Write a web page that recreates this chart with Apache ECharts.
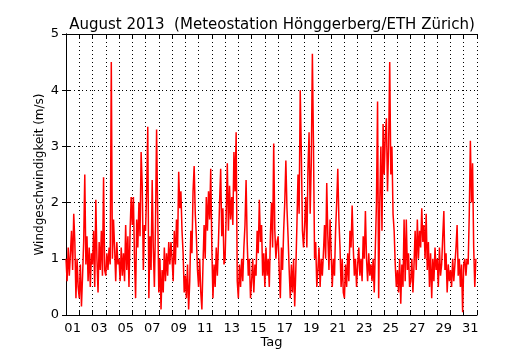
<!DOCTYPE html>
<html>
<head>
<meta charset="utf-8">
<script src="https://cdn.jsdelivr.net/npm/echarts@6/dist/echarts.min.js"></script>
<style>
  html, body { margin: 0; padding: 0; background: #fff; }
  #chart { width: 530px; height: 350px; }
</style>
</head>
<body>
<div id="chart"></div>
<script>
// Windgeschwindigkeit (m/s), 12 Werte pro Tag (alle 2 h), aus dem Bild geschaetzt
var week1 = [
  1.0, 0.6, 1.2, 0.7, 1.1, 1.5, 0.8, 1.8, 1.3, 0.3, 1.0, 0.5,
  0.3, 0.9, 0.15, 0.7, 1.3, 2.5, 0.9, 1.4, 0.6, 1.2, 0.5, 1.1,
  0.9, 1.5, 0.5, 2.05, 1.0, 0.4, 1.3, 0.8, 1.5, 0.7, 2.45, 0.8,
  0.7, 1.1, 0.8, 1.2, 0.9, 4.5, 1.0, 1.7, 1.2, 0.6, 1.3, 0.9,
  1.0, 0.6, 1.2, 0.7, 1.1, 0.6, 1.6, 0.8, 1.4, 0.5, 1.5, 2.1,
  1.6, 2.1, 1.0, 0.3, 1.7, 1.2, 2.0, 1.4, 2.9, 2.3, 0.8, 1.6,
  1.5, 2.2, 3.35, 0.3, 1.4, 0.8, 2.4, 1.2, 0.5, 1.6, 3.3, 1.8
];
var week2 = [
  0.4, 1.0, 0.1, 0.8, 0.4, 1.2, 0.6, 1.1, 0.7, 1.3, 0.9, 1.3,
  1.0, 0.6, 1.5, 0.9, 1.7, 1.2, 2.55, 1.9, 2.2, 1.5, 1.1, 0.4,
  0.7, 0.3, 0.9, 0.1, 0.6, 1.5, 1.1, 2.2, 2.65, 1.8, 1.4, 0.8,
  0.5, 1.0, 0.4, 0.1, 0.9, 1.6, 1.0, 2.1, 1.5, 2.2, 1.7, 2.6,
  1.2, 0.3, 0.9, 0.5, 1.2, 0.7, 1.3, 2.0, 2.6, 1.4, 1.9, 0.9,
  1.0, 1.8, 2.7, 1.5, 2.3, 1.7, 2.1, 1.6, 2.9, 2.2, 3.25, 0.6,
  0.3, 0.9, 0.5, 1.0, 0.6, 1.2, 1.6, 2.4, 1.3, 0.7, 1.0, 0.3
];
var week3 = [
  0.6, 1.0, 0.4, 0.9, 0.7, 1.5, 1.1, 2.05, 1.3, 1.6, 0.7, 1.1,
  0.5, 1.2, 0.7, 1.0, 0.5, 1.4, 2.0, 1.2, 3.05, 1.5, 1.0, 1.3,
  1.4, 0.8, 0.3, 1.2, 0.8, 1.5, 2.0, 2.75, 1.9, 1.4, 0.8, 0.3,
  0.9, 0.4, 1.0, 0.15, 0.8, 1.6, 2.5, 1.8, 4.0, 2.9, 1.5, 1.2,
  1.6, 2.1, 1.2, 2.6, 3.25, 1.8, 2.7, 4.65, 3.0, 1.0, 1.3, 0.5,
  0.8, 1.2, 0.5, 1.0, 0.7, 1.1, 1.6, 1.0, 2.35, 1.4, 0.8, 1.7,
  1.7, 0.5, 1.0, 0.7, 1.5, 2.0, 2.6, 1.7, 1.2, 0.5, 1.0, 0.4
];
var week4 = [
  0.3, 0.9, 0.5, 1.1, 0.6, 1.5, 1.2, 1.95, 1.2, 0.7, 1.0, 0.5,
  0.9, 1.2, 0.7, 1.0, 0.6, 1.4, 1.0, 1.85, 1.0, 0.6, 1.1, 0.7,
  0.9, 0.6, 1.0, 0.4, 1.2, 2.0, 3.8, 0.3, 2.0, 3.0, 1.5, 3.4,
  2.5, 3.2, 3.5, 2.2, 3.0, 4.5, 2.5, 3.0, 1.8, 1.5, 0.9, 0.5,
  0.8, 0.4, 1.0, 0.2, 0.9, 0.5, 1.7, 0.6, 1.7, 0.8, 1.1, 0.5,
  0.6, 1.0, 0.4, 0.9, 1.5, 0.8, 1.7, 1.0, 1.5, 1.2, 1.9, 1.3,
  1.6, 1.0, 1.8, 0.8, 1.3, 0.5, 1.1, 0.3, 1.0, 0.6, 1.2, 0.8
];
var week5 = [
  1.0, 0.5, 1.2, 0.7, 0.9, 1.4, 1.85, 0.8, 1.1, 0.4, 0.9, 0.6,
  0.8, 0.5, 1.0, 0.6, 0.9, 1.2, 1.6, 0.7, 1.0, 0.5, 0.9, 0.05,
  0.9, 1.0, 0.7, 1.0, 0.9, 1.8, 3.1, 2.0, 2.7, 1.2, 0.5, 1.0
];
var dayLabels = ["01", "03", "05", "07", "09", "11", "13", "15", "17", "19",
                 "21", "23", "25", "27", "29", "31"];
var yTicks = [0, 1, 2, 3, 4, 5];
var perDay = 12;

var values = week1.concat(week2, week3, week4, week5);
var points = values.map(function (v, i) {
  return [i / perDay, v];   // x in Tagen seit 1. August 00:00
});

var font = "DejaVu Sans";
var chart = echarts.init(document.getElementById("chart"));
chart.setOption({
  animation: false,
  backgroundColor: "#fff",
  title: {
    text: "August 2013  (Meteostation Hönggerberg/ETH Zürich)",
    left: 267,
    top: 13,
    textAlign: "center",
    textStyle: { fontFamily: font, fontSize: 15, fontWeight: "normal", color: "#000" }
  },
  grid: { left: 66, right: 53, top: 34, bottom: 35, outerBoundsMode: "none" },
  xAxis: [
    {
      type: "value", min: 0, max: 31, interval: 1, position: "bottom",
      axisLine: { lineStyle: { color: "#000", width: 1 } },
      axisTick: { inside: true, length: 4, lineStyle: { color: "#000" } },
      axisLabel: { show: false },
      splitLine: { show: true, lineStyle: { color: "#000", type: [1, 3], width: 1 } }
    },
    {
      // Beschriftung jeweils in der Tagesmitte (Halbtage)
      type: "value", min: 0, max: 62, interval: 1, position: "bottom",
      axisLine: { show: false }, axisTick: { show: false }, splitLine: { show: false },
      axisLabel: {
        margin: 7, fontFamily: font, fontSize: 13, color: "#000",
        formatter: function (v) { return v % 4 === 1 ? dayLabels[(v - 1) / 4] : ""; }
      },
      name: "Tag", nameLocation: "middle", nameGap: 21, nameMoveOverlap: false,
      nameTextStyle: { fontFamily: font, fontSize: 13, color: "#000" }
    },
    {
      type: "value", min: 0, max: 31, interval: 1, position: "top",
      axisLine: { lineStyle: { color: "#000", width: 1 } },
      axisTick: { inside: true, length: 4, lineStyle: { color: "#000" } },
      axisLabel: { show: false }, splitLine: { show: false }
    }
  ],
  yAxis: [
    {
      type: "value", min: yTicks[0], max: yTicks[yTicks.length - 1], interval: 1,
      axisLine: { show: true, lineStyle: { color: "#000", width: 1 } },
      axisTick: { show: true, inside: true, length: 4, lineStyle: { color: "#000" } },
      axisLabel: { margin: 7, fontFamily: font, fontSize: 13, color: "#000" },
      splitLine: { show: true, lineStyle: { color: "#000", type: [1, 3], width: 1 } },
      name: "Windgeschwindigkeit (m/s)", nameLocation: "middle", nameGap: 20,
      nameMoveOverlap: false,
      nameTextStyle: { fontFamily: font, fontSize: 12, color: "#000" }
    },
    {
      type: "value", min: 0, max: 5, interval: 1, position: "right",
      axisLine: { show: true, lineStyle: { color: "#000", width: 1 } },
      axisTick: { show: true, inside: true, length: 4, lineStyle: { color: "#000" } },
      axisLabel: { show: false }, splitLine: { show: false }
    }
  ],
  series: [
    {
      type: "line",
      xAxisIndex: 0,
      yAxisIndex: 0,
      data: points,
      showSymbol: false,
      lineStyle: { color: "#ff0000", width: 1.5 }
    }
  ]
});
</script>
</body>
</html>
